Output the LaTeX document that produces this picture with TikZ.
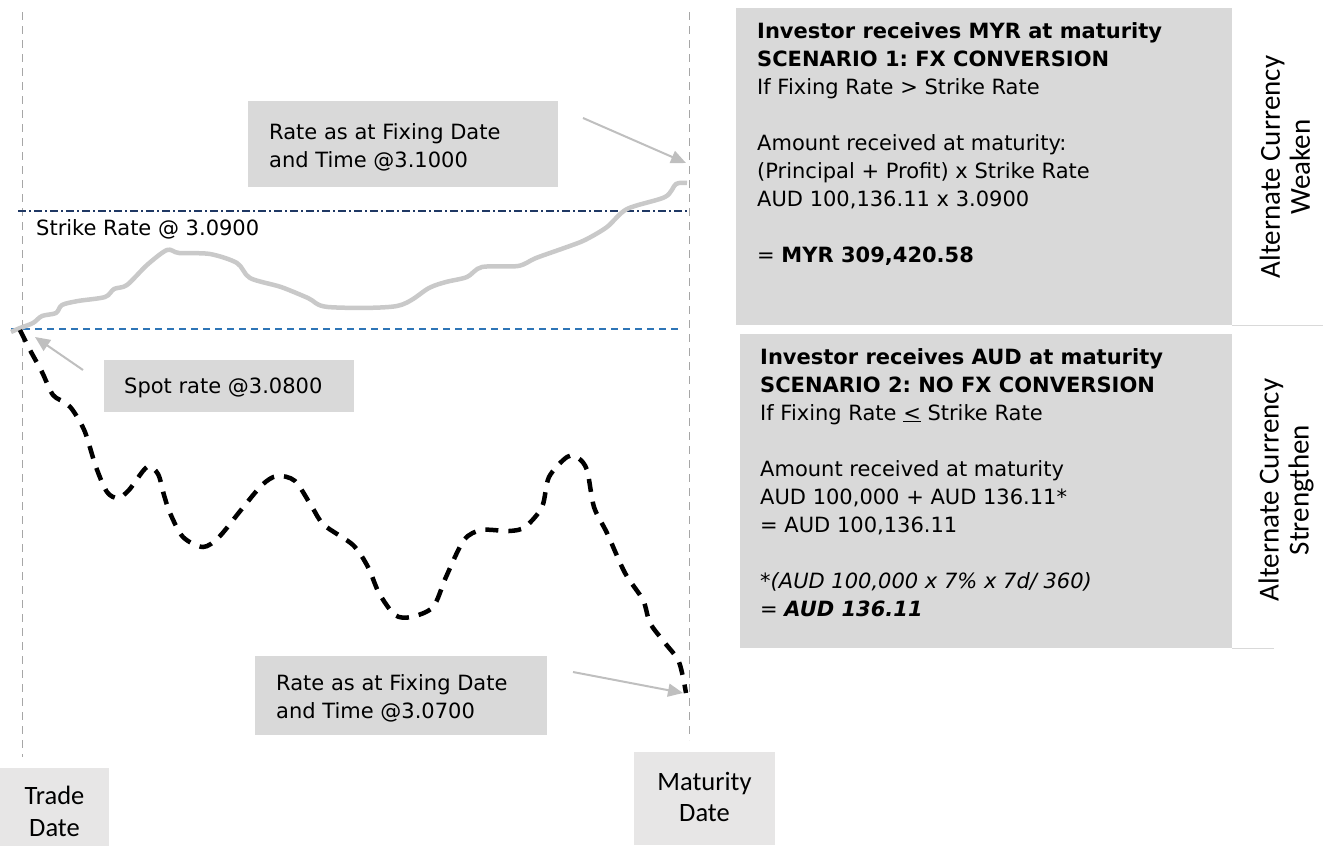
\documentclass[tikz,border=0pt]{standalone}
\usepackage{fontspec}
\setmainfont{DejaVu Sans}
\newfontfamily\calibri{Carlito}
\usepackage{tikz}
\usetikzlibrary{arrows.meta}
\definecolor{boxgrey}{HTML}{D9D9D9}
\definecolor{dategrey}{HTML}{E7E6E6}
\definecolor{pathgrey}{HTML}{C9C9C9}
\definecolor{arrowgrey}{HTML}{BFBFBF}
\definecolor{guidegrey}{HTML}{A6A6A6}
\definecolor{strikenavy}{HTML}{1F3864}
\definecolor{spotblue}{HTML}{2E75B6}
\frenchspacing

\begin{document}
\begin{tikzpicture}[x=1pt, y=-1pt,
		greybox/.style={fill=boxgrey, inner sep=0pt, anchor=north west},
		datebox/.style={fill=dategrey, inner sep=0pt, anchor=north west},
		boxtext/.style={inner sep=0pt, anchor=north west, align=left, font=\fontsize{21}{28}\selectfont},
		datetext/.style={inner sep=0pt, anchor=north, align=center, font=\calibri\fontsize{26.5}{31.5}\selectfont},
		sidetext/.style={inner sep=0pt, rotate=90, align=center, font=\calibri\fontsize{29}{30}\selectfont},
		guide/.style={guidegrey, line width=1pt, dash pattern=on 8pt off 6pt},
		pointer/.style={arrowgrey, line width=2pt, -{Triangle[length=15pt,width=13pt]}},
		rule/.style={draw=boxgrey, line width=1.5pt}]
		\useasboundingbox (0,0) rectangle (1327,846);
		\foreach \x/\yend in {22/757, 689/740} {
			\draw[guide] (\x,12) -- (\x,\yend);
		}
		\draw[strikenavy, line width=1.3pt, dash pattern=on 8pt off 3pt on 2pt off 3pt] (18,211) -- (687,211);
		\draw[spotblue, line width=1.3pt, dash pattern=on 7pt off 5pt] (11,329) -- (679,329);
		\node[inner sep=0pt, anchor=base west, font=\fontsize{21}{28}\selectfont] (strike) at (36,235) {Strike Rate @ 3.0900};

		\draw[pathgrey, line width=4.5pt, line join=round] plot[smooth, tension=0.5] coordinates {(11,332) (20,328) (33,323) (42,316) (56,313) (62,305) (78,301) (105,297) (114,289) (127,285) (147,265) (167,250) (179,253) (210,254) (237,263) (250,278) (281,287) (308,298) (328,307) (397,306) (429,288) (446,282) (467,277) (482,267) (518,266) (536,258) (567,247) (585,240) (607,227) (627,209) (665,197) (676,184) (687,183)};
		\draw[black, line width=4.5pt, dash pattern=on 13pt off 10pt] plot[smooth, tension=0.5] coordinates {(20,330) (30,350) (42,372) (53,395) (66,403) (74,412) (85,432) (96,467) (107,492) (118,498) (129,490) (147,467) (158,474) (164,495) (170,513) (183,537) (203,547) (219,537) (241,510) (262,485) (277,476) (295,481) (312,507) (324,525) (353,545) (368,567) (379,593) (395,615) (411,617) (433,607) (446,577) (464,540) (482,530) (509,531) (525,527) (542,507) (549,477) (567,457) (578,458) (587,470) (594,507) (607,533) (625,573) (643,600) (650,623) (665,643) (679,662) (686,693)};

		\node[greybox, minimum width=310pt, minimum height=86pt] (fixHi) at (248,101) {};
		\node[boxtext] (fixHi-txt) at (269,123) {Rate as at Fixing Date\\and Time @3.1000};
		\node[greybox, minimum width=250pt, minimum height=52pt] (spot) at (104,360) {};
		\node[inner sep=0pt, anchor=base west, font=\fontsize{21}{28}\selectfont] (spot-txt) at (124,393) {Spot rate @3.0800};
		\node[greybox, minimum width=292pt, minimum height=79pt] (fixLo) at (255,656) {};
		\node[boxtext] (fixLo-txt) at (276,674) {Rate as at Fixing Date\\and Time @3.0700};

		\coordinate (fixHi-from) at (583,118);
		\coordinate (fixHi-to) at (686,163);
		\coordinate (spot-from) at (83,370);
		\coordinate (spot-to) at (35,337);
		\coordinate (fixLo-from) at (573,672);
		\coordinate (fixLo-to) at (683,693);
		\draw[pointer] (fixHi-from) -- (fixHi-to);
		\draw[pointer] (spot-from) -- (spot-to);
		\draw[pointer] (fixLo-from) -- (fixLo-to);

		\node[datebox, minimum width=109pt, minimum height=78pt] (trade) at (0,768) {};
		\node[datetext] (trade-txt) at (54.5,786) {Trade\\Date};
		\node[datebox, minimum width=141pt, minimum height=93pt] (maturity) at (634,752) {};
		\node[datetext] (maturity-txt) at (704.5,772) {Maturity\\Date};

		\node[greybox, minimum width=496pt, minimum height=317pt] (sc1) at (736,8) {};
		\node[boxtext] (sc1-txt) at (757,22) {\textbf{Investor receives MYR at maturity}\\\textbf{SCENARIO 1: FX CONVERSION}\\If Fixing Rate > Strike Rate\\[28pt]Amount received at maturity:\\(Principal + Profit) x Strike Rate\\AUD 100,136.11 x 3.0900\\[28pt]= \textbf{MYR 309,420.58}};
		\node[greybox, minimum width=492pt, minimum height=314pt] (sc2) at (740,334) {};
		\node[boxtext] (sc2-txt) at (760,348) {\textbf{Investor receives AUD at maturity}\\\textbf{SCENARIO 2: NO FX CONVERSION}\\If Fixing Rate \underline{<} Strike Rate\\[28pt]Amount received at maturity\\AUD 100,000 + AUD 136.11*\\= AUD 100,136.11\\[28pt]\textit{*(AUD 100,000 x 7\% x 7d/ 360)}\\= \textbf{\textit{AUD 136.11}}};
		\draw[rule] (sc1.south east) -- ++(91,0);
		\draw[rule] (sc2.south east) -- ++(42,0);

		\node[sidetext] (weaken) at (1285,167) {Alternate Currency\\Weaken};
		\node[sidetext] (strengthen) at (1286,490) {Alternate Currency\\Strengthen};
\end{tikzpicture}
\end{document}
